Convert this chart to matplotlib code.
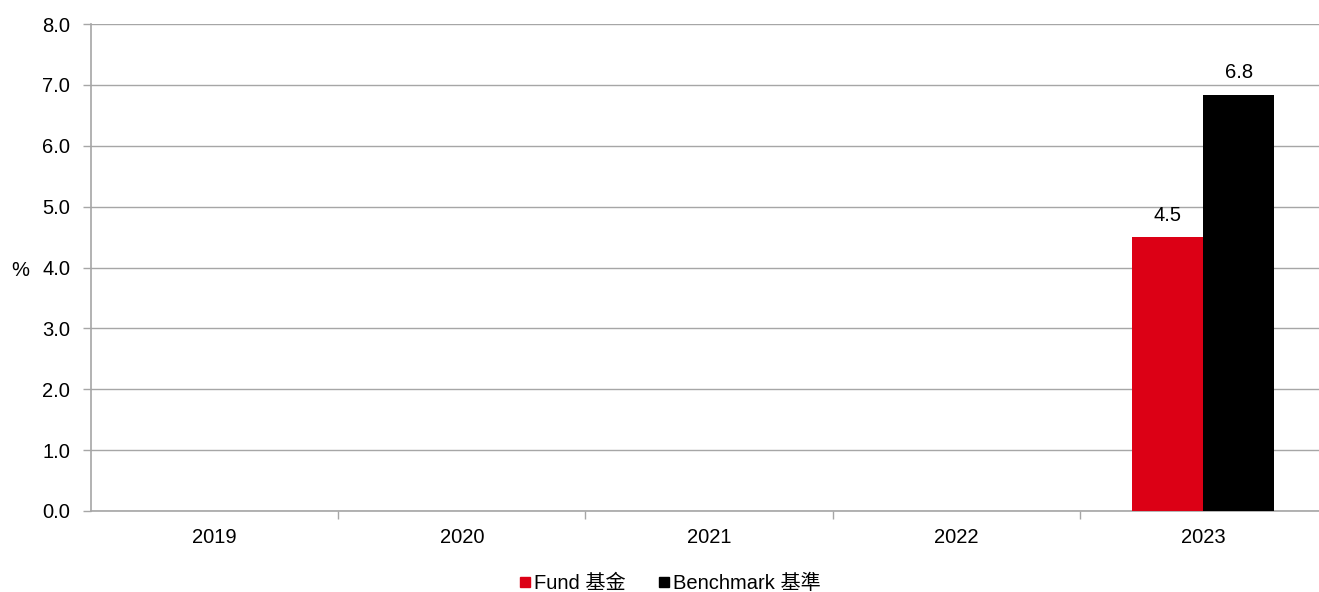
import matplotlib.pyplot as plt
import numpy as np
from matplotlib.lines import Line2D

plt.rcParams['font.family'] = ['Liberation Sans', 'Noto Sans CJK TC', 'DejaVu Sans']

years = ['2019', '2020', '2021', '2022', '2023']
fund = [np.nan, np.nan, np.nan, np.nan, 4.5]
benchmark = [np.nan, np.nan, np.nan, np.nan, 6.84]
series_names = ['Fund 基金', 'Benchmark 基準']
colors = ['#dc0015', '#000000']

W, H = 1319, 592
fs = 14.5
fig = plt.figure(figsize=(W / 100, H / 100), dpi=100)
ax = fig.add_axes([91 / W, 1 - 511 / H, 1236 / W, 487 / H])

x = np.arange(len(years))
bw = 0.287
grid_c = '#a6a6a6'

ax.bar(x - bw / 2, fund, bw, color=colors[0], zorder=3)
ax.bar(x + bw / 2, benchmark, bw, color=colors[1], zorder=3)

for i in range(len(years)):
    if not np.isnan(fund[i]):
        ax.text(x[i] - bw / 2, fund[i] + 0.2, f'{fund[i]:.1f}', ha='center', va='bottom', fontsize=fs)
    if not np.isnan(benchmark[i]):
        ax.text(x[i] + bw / 2, benchmark[i] + 0.2, f'{benchmark[i]:.1f}', ha='center', va='bottom', fontsize=fs)

ax.set_xlim(-0.5, len(years) - 0.5)
ax.set_ylim(0, 8)
ax.set_yticks(np.arange(0, 8.1, 1))
ax.set_yticklabels([f'{v:.1f}' for v in np.arange(0, 8.1, 1)], fontsize=fs)
ax.set_xticks(x)
ax.set_xticklabels(years, fontsize=fs)
ax.set_xticks(np.arange(0.5, len(years) - 0.5, 1), minor=True)
ax.tick_params(axis='x', which='major', length=0, pad=12)
ax.tick_params(axis='x', which='minor', length=6, color=grid_c, width=1)
ax.tick_params(axis='y', length=6, color=grid_c, width=1, pad=9)

ax.yaxis.grid(True, color=grid_c, linewidth=1)
ax.set_axisbelow(True)
for s in ['top', 'right']:
    ax.spines[s].set_visible(False)
for s in ['left', 'bottom']:
    ax.spines[s].set_color(grid_c)
    ax.spines[s].set_linewidth(1.2)

fig.text(20 / W, 1 - 271 / H, '%', ha='center', va='center', fontsize=fs)

handles = [Line2D([], [], marker='s', linestyle='none', color=c, markersize=7.5) for c in colors]
fig.legend(handles, series_names, loc='center', bbox_to_anchor=(670 / W, 1 - 583 / H),
           ncol=2, frameon=False, fontsize=fs, handlelength=0.6, handletextpad=0.15,
           columnspacing=1.6, borderpad=0)

fig.savefig('out.png', dpi=100)
